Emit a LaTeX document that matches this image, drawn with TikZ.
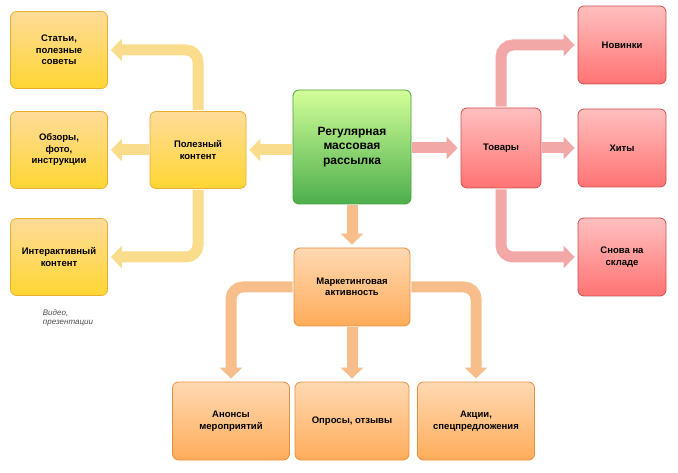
\documentclass[tikz,border=0pt]{standalone}
\usepackage{fontspec}
\setmainfont{Liberation Sans}
\usetikzlibrary{arrows.meta}
\definecolor{ylin}{HTML}{E8B030}
\definecolor{yarr}{HTML}{F9DC8C}
\definecolor{rlin}{HTML}{D05050}
\definecolor{rarr}{HTML}{F3A8A8}
\definecolor{olin}{HTML}{E89040}
\definecolor{oarr}{HTML}{F7BE8C}
\definecolor{glin}{HTML}{50A040}
\begin{document}
\begin{tikzpicture}[x=1pt,y=-1pt]
  \tikzset{box/.style={draw,line width=0.8pt,rounded corners=6pt,align=center,
             font=\fontsize{9.5}{11.5}\selectfont\bfseries,inner sep=2pt},
    ybox/.style={box,draw=ylin,top color=yellow!30!orange!40,bottom color=yellow!60!orange!80,
             minimum width=97pt,minimum height=77pt},
    rbox/.style={box,draw=rlin,top color=red!25,bottom color=red!55,
             minimum width=88pt,minimum height=78pt},
    obox/.style={box,draw=olin,top color=orange!30,bottom color=orange!65,
             minimum width=116pt,minimum height=78pt},
    link/.style={line width=11pt,rounded corners=12pt,
             -{Triangle[length=11pt,width=22pt]},shorten >=3pt,shorten <=1pt}}
  \useasboundingbox (0,0) rectangle (678,473);

  % centre
  \node[box,draw=glin,top color=green!25!lime!40,bottom color=green!55!black!70,
        minimum width=118pt,minimum height=114pt,
        font=\fontsize{12}{14.5}\selectfont\bfseries] (mail) at (352,147)
        {Регулярная\\массовая\\рассылка};

  % useful content
  \node[ybox,minimum width=96pt] (use) at (198,150) {Полезный\\контент};
  \node[ybox] (art) at (59,50) {Статьи,\\полезные\\советы};
  \node[ybox] (rev) at (59,150) {Обзоры,\\фото,\\инструкции};
  \node[ybox] (int) at (59,257) {Интерактивный\\контент};
  \node[font=\fontsize{8}{9.5}\selectfont\itshape,align=left,text=black!70]
    (video) at (68,318) {Видео,\\презентации};

  % goods
  \node[rbox,minimum width=80pt,minimum height=80pt] (goods) at (501,148) {Товары};
  \node[rbox] (new) at (622,45) {Новинки};
  \node[rbox] (hit) at (622,148) {Хиты};
  \node[rbox] (back) at (622,257) {Снова на\\складе};

  % marketing
  \node[obox] (mkt) at (352,287) {Маркетинговая\\активность};
  \node[obox,minimum width=117pt] (event) at (231,421) {Анонсы\\мероприятий};
  \node[obox,minimum width=114pt] (poll) at (352,421) {Опросы, отзывы};
  \node[obox,minimum width=117pt] (promo) at (476,421) {Акции,\\спецпредложения};

  % connectors
  \draw[link,draw=yarr] (mail.west |- use.east) -- (use.east);
  \draw[link,draw=yarr] (use.north) |- (art.east);
  \draw[link,draw=yarr] (use.west) -- (rev.east);
  \draw[link,draw=yarr] (use.south) |- (int.east);

  \draw[link,draw=rarr] (mail.east |- goods.west) -- (goods.west);
  \draw[link,draw=rarr] (goods.north) |- (new.west);
  \draw[link,draw=rarr] (goods.east) -- (hit.west);
  \draw[link,draw=rarr] (goods.south) |- (back.west);

  \draw[link,draw=oarr] (mail.south) -- (mkt.north);
  \draw[link,draw=oarr] (mkt.west) -| (event.north);
  \draw[link,draw=oarr] (mkt.south) -- (poll.north);
  \draw[link,draw=oarr] (mkt.east) -| (promo.north);
\end{tikzpicture}
\end{document}
